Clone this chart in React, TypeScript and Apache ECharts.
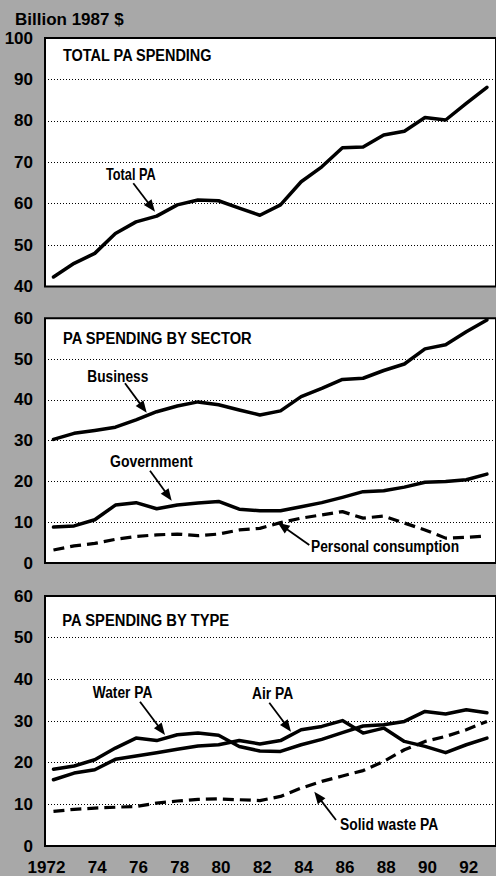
import React, { useEffect, useRef } from "react";
import * as echarts from "echarts";

// ---- data ----
const years = [1972, 1973, 1974, 1975, 1976, 1977, 1978, 1979, 1980, 1981, 1982, 1983, 1984, 1985, 1986, 1987, 1988, 1989, 1990, 1991, 1992, 1993];
const totalPA = [42.3, 45.6, 48.0, 52.8, 55.6, 57.0, 59.7, 60.9, 60.7, 58.9, 57.2, 59.7, 65.3, 68.9, 73.5, 73.7, 76.6, 77.5, 80.8, 80.2, 84.2, 88.1];
const business = [30.3, 31.8, 32.5, 33.3, 35.1, 37.1, 38.5, 39.5, 38.8, 37.5, 36.3, 37.3, 40.8, 42.8, 45.0, 45.3, 47.2, 48.8, 52.5, 53.5, 56.7, 59.6];
const government = [8.8, 9.1, 10.6, 14.2, 14.8, 13.3, 14.2, 14.7, 15.1, 13.2, 12.8, 12.8, 13.8, 14.8, 16.1, 17.5, 17.7, 18.6, 19.8, 20.0, 20.4, 21.8];
const personalConsumption = [3.2, 4.2, 4.8, 5.8, 6.5, 6.9, 7.1, 6.7, 7.1, 8.1, 8.5, 9.9, 11.0, 11.8, 12.6, 11.0, 11.5, 9.8, 8.1, 6.1, 6.3, 6.6];
const waterPA = [18.4, 19.2, 20.7, 23.5, 25.9, 25.3, 26.7, 27.1, 26.6, 23.9, 22.8, 22.7, 24.3, 25.6, 27.2, 28.8, 29.1, 29.9, 32.3, 31.7, 32.7, 32.0];
const airPA = [15.9, 17.5, 18.3, 20.8, 21.6, 22.4, 23.2, 24.0, 24.3, 25.3, 24.5, 25.3, 27.9, 28.7, 30.1, 27.1, 28.3, 25.1, 23.9, 22.4, 24.3, 25.9];
const solidWastePA = [8.3, 8.8, 9.1, 9.3, 9.5, 10.3, 10.8, 11.2, 11.3, 11.1, 10.9, 11.9, 13.9, 15.5, 16.8, 18.1, 20.3, 23.1, 25.1, 26.3, 27.9, 29.9];
const xTickYears = [1972, 1974, 1976, 1978, 1980, 1982, 1984, 1986, 1988, 1990, 1992];
const panelTitles = ["TOTAL PA SPENDING", "PA SPENDING BY SECTOR", "PA SPENDING BY TYPE"];
const yRanges = [
  [40, 100],
  [0, 60],
  [0, 60],
];
const unitLabel = "Billion 1987 $";

const FONT = '"Liberation Sans", Arial, Helvetica, sans-serif';
const XMIN = 1971.59;
const XMAX = 1993.44;
const LABEL_SHIFT = 0.579;

function pairs(vals: number[]) {
  return years.map((y, i) => [y, vals[i]]);
}

function txt(text: string, x: number, y: number, scaleX = 0.81, bold = true) {
  return {
    type: "text",
    x,
    y,
    scaleX,
    z: 100,
    style: {
      text,
      fill: "#000",
      font: `${bold ? "bold " : ""}17px ${FONT}`,
      textAlign: "left",
      textVerticalAlign: "middle",
      align: "left",
      verticalAlign: "middle",
    },
  };
}

function arrow(x1: number, y1: number, x2: number, y2: number) {
  const dx = x2 - x1;
  const dy = y2 - y1;
  const L = Math.hypot(dx, dy);
  const ux = dx / L;
  const uy = dy / L;
  const hl = 12;
  const hw = 4.8;
  const bx = x2 - ux * hl;
  const by = y2 - uy * hl;
  return [
    {
      type: "line",
      z: 100,
      shape: { x1, y1, x2: bx + ux * 2, y2: by + uy * 2 },
      style: { stroke: "#000", lineWidth: 1.8 },
    },
    {
      type: "polygon",
      z: 100,
      shape: {
        points: [
          [x2, y2],
          [bx - uy * hw, by + ux * hw],
          [bx + uy * hw, by - ux * hw],
        ],
      },
      style: { fill: "#000" },
    },
  ];
}

export default function App() {
  const ref = useRef<HTMLDivElement>(null);

  useEffect(() => {
    if (!ref.current) return;
    const chart = echarts.init(ref.current, null, { renderer: "svg" });

    const gridDefs = [
      { top: 38, height: 248.5 },
      { top: 318.3, height: 244.7 },
      { top: 596, height: 250 },
    ];

    const grid = gridDefs.map((g) => ({
      left: 45,
      right: -2,
      top: g.top,
      height: g.height,
      show: true,
      backgroundColor: "#fff",
      borderColor: "#000",
      borderWidth: 2,
      containLabel: false,
    }));

    const xAxis: any[] = [0, 1, 2].map((i) => ({
      type: "value",
      gridIndex: i,
      min: XMIN,
      max: XMAX,
      position: "bottom",
      axisLine: { show: false },
      axisTick: { show: false },
      axisLabel: { show: false },
      splitLine: { show: false },
    }));
    xAxis.push({
      type: "value",
      gridIndex: 2,
      min: XMIN - LABEL_SHIFT,
      max: XMAX - LABEL_SHIFT,
      position: "bottom",
      axisLine: { show: false },
      axisTick: { show: false },
      splitLine: { show: false },
      axisLabel: {
        show: true,
        customValues: xTickYears,
        formatter: (v: number) => (v === 1972 ? "1972" : String(v).slice(2)),
        align: "right",
        margin: 13,
        fontSize: 17,
        fontWeight: "bold",
        fontFamily: FONT,
        color: "#000",
      },
    });

    const yAxis = yRanges.map((r, i) => ({
      type: "value",
      gridIndex: i,
      min: r[0],
      max: r[1],
      interval: 10,
      axisLine: { show: false },
      axisTick: { show: false },
      axisLabel: {
        margin: 12,
        fontSize: 17,
        fontWeight: "bold",
        fontFamily: FONT,
        color: "#000",
      },
      splitLine: {
        show: true,
        lineStyle: { color: "#000", width: 1, type: [1, 2] },
      },
    }));

    const solid = { color: "#000", width: 3.5, type: "solid", join: "round", cap: "round" };
    const dashed = { color: "#000", width: 3.2, type: [11, 6], join: "round" };
    const mk = (name: string, vals: number[], idx: number, ls: any) => ({
      type: "line",
      name,
      xAxisIndex: idx,
      yAxisIndex: idx,
      data: pairs(vals),
      symbol: "none",
      smooth: false,
      lineStyle: ls,
      z: 5,
    });

    const series = [
      mk("Total PA", totalPA, 0, solid),
      mk("Business", business, 1, solid),
      mk("Government", government, 1, solid),
      mk("Personal consumption", personalConsumption, 1, dashed),
      mk("Water PA", waterPA, 2, solid),
      mk("Air PA", airPA, 2, solid),
      mk("Solid waste PA", solidWastePA, 2, dashed),
    ];

    const graphic: any[] = [
      txt(unitLabel, 15, 19, 1, true),
      txt(panelTitles[0], 63, 55.5, 0.851),
      txt(panelTitles[1], 63, 338.5, 0.864),
      txt(panelTitles[2], 62.3, 619.7, 0.868),
      txt("Total PA", 106, 173.3, 0.75),
      ...arrow(133.3, 183.3, 155, 211.7),
      txt("Business", 87.3, 375.5, 0.807),
      ...arrow(125, 383.3, 146.7, 412.7),
      txt("Government", 110, 461.2, 0.826),
      ...arrow(150, 470.7, 171.7, 500.7),
      txt("Personal consumption", 311, 545.5, 0.809),
      ...arrow(309.3, 545, 277.7, 522.7),
      txt("Water PA", 92.7, 691.7, 0.811),
      ...arrow(140, 701.7, 165, 735),
      txt("Air PA", 252, 693, 0.814),
      ...arrow(269.3, 702.7, 291, 731.7),
      txt("Solid waste PA", 340, 823.7, 0.815),
      ...arrow(336, 820, 314.3, 791.7),
    ];

    chart.setOption({
      animation: false,
      backgroundColor: "#a8a8a8",
      textStyle: { fontFamily: FONT },
      grid,
      xAxis,
      yAxis,
      series,
      graphic,
    });

    return () => chart.dispose();
  }, []);

  return (
    <div
      ref={ref}
      style={{ position: "absolute", left: 0, top: 0, width: 496, height: 876 }}
    />
  );
}
